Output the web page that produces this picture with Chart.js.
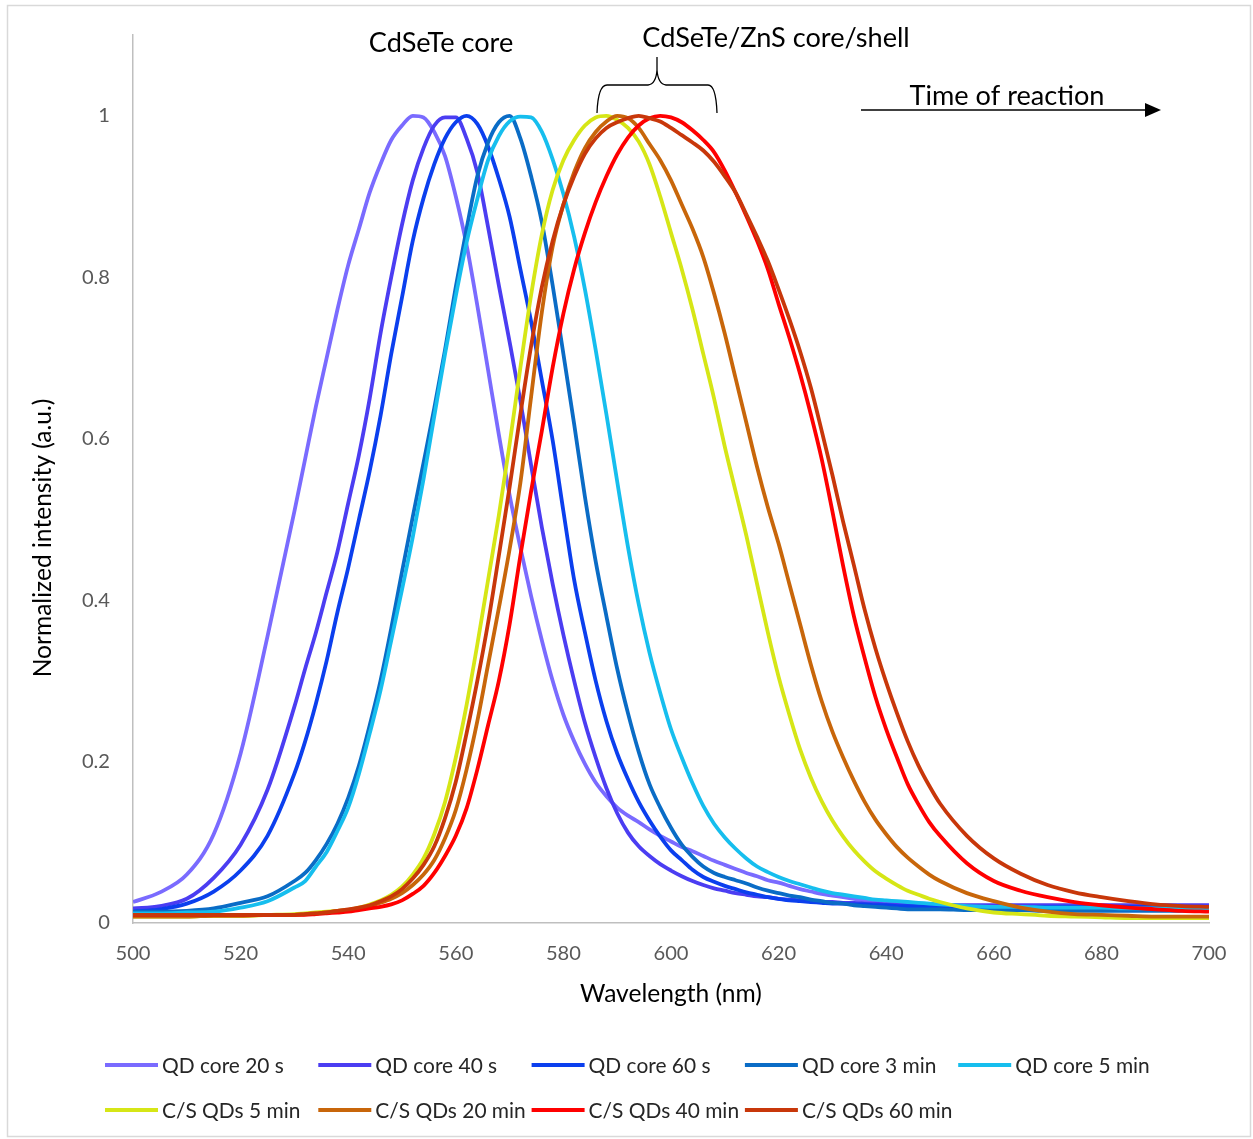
<!DOCTYPE html>
<html><head><meta charset="utf-8">
<script src="https://cdn.jsdelivr.net/npm/chart.js@4.4.1/dist/chart.umd.min.js"></script>
<style>html,body{margin:0;padding:0;background:#fff;} canvas{display:block;}</style>
</head><body>
<canvas id="c" width="1253" height="1139"></canvas>
<script>
// ---- DATA ----
const wavelengths = [500,505,510,515,520,525,530,
 532,534,536,538,540,542,544,546,548,550,552,554,556,558,560,562,564,566,568,570,
 572,574,576,578,580,582,584,586,588,590,592,594,596,598,600,602,604,606,608,610,
 612,614,616,618,620,622,624,626,628,630,632,634,636,638,640,642,644,646,648,650,
 655,660,665,670,675,680,685,690,695,700];

const qdCore20s = [0.026,0.038,0.06,0.11,0.21,0.355,0.51,
 0.575,0.64,0.70,0.76,0.815,0.86,0.905,0.94,0.97,0.988,1.0,0.998,0.98,0.95,0.90,0.84,0.765,0.685,0.605,0.53,
 0.465,0.405,0.35,0.30,0.258,0.225,0.197,0.174,0.157,0.143,0.133,0.125,0.116,0.108,0.101,0.094,0.089,0.083,0.077,0.072,
 0.067,0.062,0.058,0.053,0.05,0.046,0.042,0.039,0.036,0.034,0.032,0.03,0.028,0.027,0.026,0.025,0.024,0.023,0.023,0.022,
 0.021,0.021,0.02,0.02,0.02,0.02,0.02,0.02,0.02,0.02];

const qdCore40s = [0.018,0.021,0.03,0.056,0.097,0.165,0.268,
 0.315,0.36,0.41,0.46,0.52,0.58,0.65,0.73,0.80,0.865,0.92,0.96,0.988,0.998,0.998,0.972,0.93,0.862,0.79,0.72,
 0.647,0.567,0.49,0.42,0.357,0.30,0.248,0.205,0.167,0.136,0.112,0.095,0.083,0.073,0.065,0.058,0.052,0.047,0.043,0.04,
 0.037,0.035,0.033,0.032,0.03,0.029,0.028,0.027,0.026,0.026,0.025,0.025,0.024,0.024,0.023,0.023,0.023,0.022,0.022,0.022,
 0.022,0.022,0.022,0.022,0.022,0.022,0.022,0.022,0.022,0.022];

const qdCore60s = [0.014,0.017,0.024,0.039,0.065,0.108,0.185,
 0.225,0.272,0.325,0.385,0.44,0.50,0.56,0.628,0.705,0.775,0.845,0.898,0.94,0.972,0.992,1.0,0.99,0.962,0.922,0.875,
 0.81,0.745,0.672,0.598,0.51,0.425,0.36,0.30,0.25,0.21,0.178,0.15,0.127,0.107,0.09,0.078,0.066,0.057,0.051,0.046,
 0.042,0.038,0.035,0.032,0.03,0.028,0.027,0.026,0.025,0.024,0.024,0.023,0.023,0.022,0.022,0.021,0.021,0.021,0.021,0.021,
 0.02,0.02,0.02,0.02,0.02,0.02,0.02,0.02,0.02,0.02];

const qdCore3min = [0.014,0.014,0.015,0.018,0.025,0.033,0.052,
 0.062,0.078,0.098,0.123,0.155,0.195,0.245,0.30,0.365,0.435,0.503,0.57,0.638,0.71,0.788,0.86,0.925,0.967,0.992,1.0,
 0.972,0.925,0.868,0.79,0.705,0.618,0.528,0.448,0.38,0.315,0.26,0.212,0.172,0.143,0.118,0.097,0.082,0.07,0.062,0.057,
 0.053,0.049,0.044,0.04,0.037,0.034,0.032,0.029,0.027,0.025,0.024,0.022,0.021,0.02,0.019,0.018,0.017,0.017,0.017,0.017,
 0.016,0.016,0.016,0.015,0.015,0.015,0.015,0.015,0.015,0.015];

const qdCore5min = [0.012,0.012,0.013,0.014,0.019,0.027,0.044,
 0.052,0.07,0.088,0.114,0.143,0.185,0.235,0.288,0.35,0.413,0.478,0.55,0.628,0.705,0.777,0.843,0.897,0.945,0.975,0.993,
 0.999,0.998,0.98,0.946,0.903,0.85,0.785,0.71,0.63,0.547,0.466,0.395,0.335,0.285,0.24,0.205,0.173,0.145,0.123,0.106,
 0.092,0.08,0.07,0.063,0.057,0.052,0.048,0.044,0.04,0.037,0.035,0.033,0.031,0.029,0.028,0.027,0.026,0.025,0.024,0.023,
 0.021,0.02,0.02,0.019,0.019,0.019,0.018,0.018,0.018,0.018];

const csQd5min = [0.008,0.008,0.008,0.009,0.009,0.01,0.011,
 0.012,0.013,0.014,0.015,0.016,0.019,0.023,0.028,0.035,0.045,0.06,0.08,0.11,0.15,0.205,0.27,0.345,0.425,0.505,0.593,
 0.688,0.778,0.853,0.908,0.945,0.97,0.988,0.998,1.0,0.995,0.985,0.968,0.94,0.9,0.855,0.81,0.76,0.705,0.65,0.59,
 0.535,0.48,0.42,0.36,0.305,0.258,0.215,0.18,0.151,0.127,0.107,0.09,0.076,0.064,0.055,0.047,0.04,0.035,0.03,0.026,
 0.018,0.013,0.011,0.009,0.008,0.007,0.006,0.006,0.006,0.006];

const csQd20min = [0.008,0.008,0.008,0.009,0.009,0.01,0.01,
 0.011,0.012,0.013,0.015,0.016,0.018,0.021,0.025,0.03,0.037,0.047,0.06,0.078,0.105,0.14,0.19,0.25,0.32,0.39,0.463,
 0.545,0.652,0.757,0.838,0.89,0.93,0.96,0.98,0.993,1.0,0.997,0.985,0.965,0.945,0.92,0.89,0.86,0.825,0.78,0.73,
 0.675,0.62,0.565,0.515,0.47,0.42,0.37,0.32,0.275,0.237,0.205,0.176,0.15,0.128,0.11,0.094,0.081,0.07,0.06,0.052,
 0.037,0.027,0.019,0.014,0.011,0.01,0.009,0.008,0.008,0.008];

const csQd40min = [0.01,0.01,0.01,0.01,0.01,0.01,0.01,
 0.01,0.011,0.012,0.013,0.014,0.016,0.018,0.02,0.023,0.028,0.036,0.046,0.062,0.083,0.108,0.142,0.19,0.245,0.30,0.37,
 0.455,0.535,0.61,0.688,0.755,0.81,0.855,0.893,0.925,0.952,0.973,0.988,0.997,1.0,0.998,0.992,0.982,0.97,0.955,0.932,
 0.905,0.876,0.845,0.81,0.767,0.725,0.68,0.63,0.575,0.51,0.442,0.38,0.328,0.28,0.24,0.205,0.172,0.147,0.125,0.108,
 0.074,0.052,0.04,0.032,0.026,0.022,0.019,0.017,0.015,0.014];

const csQd60min = [0.01,0.01,0.01,0.01,0.01,0.01,0.01,
 0.011,0.012,0.013,0.015,0.017,0.019,0.022,0.027,0.033,0.042,0.055,0.072,0.095,0.13,0.175,0.235,0.30,0.372,0.455,0.54,
 0.63,0.715,0.788,0.845,0.89,0.925,0.953,0.972,0.985,0.992,0.997,1.0,0.997,0.993,0.985,0.976,0.967,0.957,0.943,0.925,
 0.905,0.878,0.85,0.82,0.785,0.748,0.708,0.663,0.61,0.555,0.497,0.443,0.388,0.34,0.298,0.26,0.225,0.195,0.17,0.148,
 0.108,0.08,0.061,0.047,0.038,0.032,0.027,0.023,0.021,0.02];

const seriesNames = ['QD core 20 s','QD core 40 s','QD core 60 s','QD core 3 min','QD core 5 min',
 'C/S QDs 5 min','C/S QDs 20 min','C/S QDs 40 min','C/S QDs 60 min'];
const seriesValues = [qdCore20s,qdCore40s,qdCore60s,qdCore3min,qdCore5min,csQd5min,csQd20min,csQd40min,csQd60min];
const seriesColors = ['#7A6BFF','#4B3DF2','#0B3FEE','#0A6CC6','#16BEEE','#D6E616','#C8660A','#FF0000','#C8370A'];

const xTickValues = [500,520,540,560,580,600,620,640,660,680,700];
const yTickValues = [0,0.2,0.4,0.6,0.8,1];

const xTitle = 'Wavelength (nm)';
const yTitle = 'Normalized intensity (a.u.)';
const coreLabel = 'CdSeTe core';
const shellLabel = 'CdSeTe/ZnS core/shell';
const timeLabel = 'Time of reaction';

// ---- STYLE ----
const FAMILY = 'Lato, "Noto Sans", sans-serif';
const mctx = document.createElement('canvas').getContext('2d');
function fitSize(text, target){ mctx.font = '100px ' + FAMILY; return 100 * target / mctx.measureText(text).width; }
const tickSize = fitSize('500', 35);
const legendSize = fitSize('QD core 20 s', 122);
const axisTitleSize = fitSize(xTitle, 182);
const annoSize = fitSize(timeLabel, 195);

const datasets = seriesNames.map((name, i) => ({
  label: name,
  data: wavelengths.map((w, j) => ({x: w, y: seriesValues[i][j]})),
  borderColor: seriesColors[i],
  backgroundColor: seriesColors[i],
  borderWidth: 3.8,
  pointRadius: 0,
  fill: false,
  cubicInterpolationMode: 'monotone',
  order: seriesNames.length - i
}));

const decorPlugin = {
  id: 'decor',
  beforeDraw(chart){
    const ctx = chart.ctx;
    ctx.save();
    ctx.fillStyle = '#fff';
    ctx.fillRect(0,0,chart.width,chart.height);
    ctx.strokeStyle = '#d9d9d9';
    ctx.lineWidth = 1.5;
    ctx.strokeRect(7.5, 5.5, 1243, 1131);
    ctx.restore();
  },
  afterDraw(chart){
    const ctx = chart.ctx;
    const area = chart.chartArea;
    ctx.save();
    // axis titles
    ctx.fillStyle = '#000';
    ctx.font = axisTitleSize + 'px ' + FAMILY;
    ctx.textAlign = 'center';
    ctx.textBaseline = 'middle';
    ctx.fillText(xTitle, (area.left + area.right) / 2, 994);
    ctx.save();
    ctx.translate(43, 538);
    ctx.rotate(-Math.PI / 2);
    ctx.fillText(yTitle, 0, 0);
    ctx.restore();

    // annotations
    ctx.font = annoSize + 'px ' + FAMILY;
    ctx.textBaseline = 'alphabetic';
    ctx.fillText(coreLabel, 441, 52);
    ctx.fillText(shellLabel, 776, 47);
    ctx.fillText(timeLabel, 1007, 105);

    // brace
    ctx.strokeStyle = '#000';
    ctx.lineWidth = 1.3;
    ctx.beginPath();
    ctx.moveTo(597, 113);
    ctx.quadraticCurveTo(598, 85, 607, 85);
    ctx.lineTo(648, 85);
    ctx.quadraticCurveTo(656, 84, 657, 70);
    ctx.lineTo(657, 57);
    ctx.moveTo(657, 70);
    ctx.quadraticCurveTo(658, 84, 666, 85);
    ctx.lineTo(708, 85);
    ctx.quadraticCurveTo(716, 85, 717, 113);
    ctx.stroke();

    // arrow
    ctx.lineWidth = 1.5;
    ctx.beginPath();
    ctx.moveTo(861, 110);
    ctx.lineTo(1147, 110);
    ctx.stroke();
    ctx.fillStyle = '#000';
    ctx.beginPath();
    ctx.moveTo(1145, 103);
    ctx.lineTo(1161, 110);
    ctx.lineTo(1145, 117);
    ctx.closePath();
    ctx.fill();

    // legend
    const rowsY = [1065, 1110];
    const x0 = 105, colW = 213.3;
    ctx.font = legendSize + 'px ' + FAMILY;
    ctx.textAlign = 'left';
    ctx.textBaseline = 'middle';
    chart.data.datasets.forEach((ds, i) => {
      const col = i % 5, row = Math.floor(i / 5);
      const x = x0 + col * colW, y = rowsY[row];
      ctx.strokeStyle = ds.borderColor;
      ctx.lineWidth = 4;
      ctx.beginPath();
      ctx.moveTo(x, y);
      ctx.lineTo(x + 53, y);
      ctx.stroke();
      ctx.fillStyle = '#262626';
      ctx.fillText(ds.label, x + 57, y + 1);
    });
    ctx.restore();
  }
};

new Chart(document.getElementById('c'), {
  type: 'line',
  data: { datasets },
  plugins: [decorPlugin],
  options: {
    responsive: false,
    animation: false,
    devicePixelRatio: 1,
    layout: { padding: { left: 0, top: 35, right: 44, bottom: 0 } },
    plugins: { legend: { display: false }, tooltip: { enabled: false }, title: { display: false } },
    scales: {
      x: {
        type: 'linear', min: 500, max: 700,
        afterBuildTicks(scale){ scale.ticks = xTickValues.map(v => ({value: v})); },
        afterFit(scale){ scale.height = 1139 - 923; },
        grid: { display: false, drawTicks: false },
        border: { display: true, color: '#bfbfbf', width: 1.5 },
        ticks: { padding: 954 - 923 - tickSize * 0.6, color: '#595959', font: { family: FAMILY, size: tickSize }, maxRotation: 0, autoSkip: false }
      },
      y: {
        type: 'linear', min: 0, max: 1.1,
        afterBuildTicks(scale){ scale.ticks = yTickValues.map(v => ({value: v})); },
        afterFit(scale){ scale.width = 133; },
        grid: { display: false, drawTicks: false },
        border: { display: true, color: '#bfbfbf', width: 1.5 },
        ticks: { padding: 23, color: '#595959', font: { family: FAMILY, size: tickSize },
          callback: v => String(Math.round(v * 10) / 10) }
      }
    }
  }
});
</script>
</body></html>
